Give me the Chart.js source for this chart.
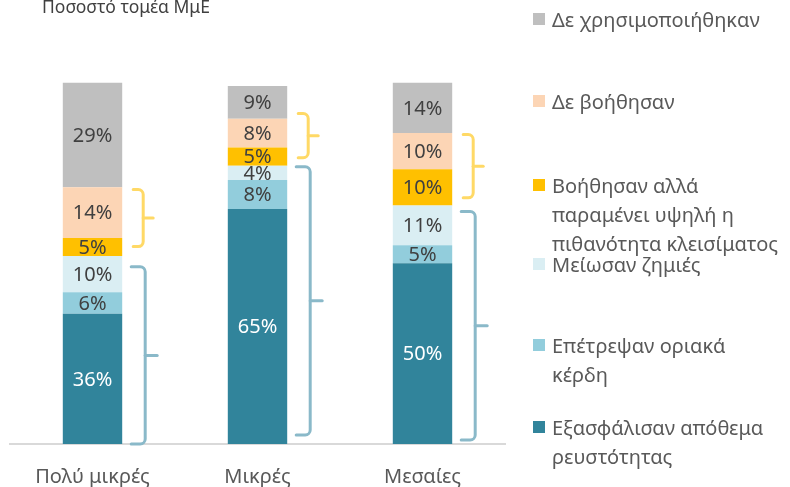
<!DOCTYPE html>
<html lang="el">
<head>
<meta charset="UTF-8">
<title>Ποσοστό τομέα ΜμΕ</title>
<script src="https://cdn.jsdelivr.net/npm/chart.js"></script>
<style>
  body, html { margin: 0; padding: 0; width: 100%; height: 100%; overflow: hidden; background: #fff; }
  #wrap { position: relative; width: 790px; height: 487px; }
  canvas { display: block; }
  .item { position: absolute; left: 533px; font-family: "Noto Sans"; font-size: 20px; color: #595959; line-height: 29px; white-space: pre-line; }
  .item .box { position: absolute; left: 0; top: 8.5px; width: 12px; height: 12px; }
  .item .txt { margin-left: 19px; }
</style>
</head>
<body>
<div id="wrap">
  <canvas id="smeChart" width="790" height="487"></canvas>
</div>
<script>
  const categories = ['Πολύ μικρές', 'Μικρές', 'Μεσαίες'];

  // bottom to top of each stack
  const liquidity = [36, 65, 50];
  const marginalProfit = [6, 8, 5];
  const reducedLosses = [10, 4, 11];
  const helpedButRisk = [5, 5, 10];
  const didNotHelp = [14, 8, 10];
  const notUsed = [29, 9, 14];

  const seriesNames = [
    'Εξασφάλισαν απόθεμα\nρευστότητας',
    'Επέτρεψαν οριακά\nκέρδη',
    'Μείωσαν ζημιές',
    'Βοήθησαν αλλά\nπαραμένει υψηλή η\nπιθανότητα κλεισίματος',
    'Δε βοήθησαν',
    'Δε χρησιμοποιήθηκαν'
  ];
  const seriesColors = ['#31849b', '#92cddc', '#daeef3', '#ffc000', '#fcd5b5', '#bfbfbf'];

  // bracket ranges [from, to] in % per category
  const riskBracket = [[54.6, 70.4], [79.2, 91.4], [68.1, 85.6]];
  const helpBracket = [[0, 49], [2.5, 76.7], [1.1, 64.3]];

  const seriesData = [liquidity, marginalProfit, reducedLosses, helpedButRisk, didNotHelp, notUsed];

  // legend, top item = top of stack
  const legendTops = [19, 101, 185, 264, 345, 427];
  const wrap = document.getElementById('wrap');
  for (let k = 0; k < seriesNames.length; k++) {
    const i = seriesNames.length - 1 - k;
    const div = document.createElement('div');
    div.className = 'item';
    div.style.top = (legendTops[k] - 14.5) + 'px';
    div.innerHTML = '<span class="box" style="background:' + seriesColors[i] + '"></span><div class="txt"></div>';
    div.querySelector('.txt').textContent = seriesNames[i];
    wrap.appendChild(div);
  }

  const overlay = {
    id: 'overlay',
    afterDatasetsDraw(chart) {
      const ctx = chart.ctx;
      const y = chart.scales.y;
      ctx.save();

      // segment labels
      ctx.font = '20px "Noto Sans"';
      ctx.textAlign = 'center';
      ctx.textBaseline = 'middle';
      chart.data.datasets.forEach((ds, i) => {
        chart.getDatasetMeta(i).data.forEach((bar, j) => {
          ctx.fillStyle = i === 0 ? '#ffffff' : '#404040';
          ctx.fillText(ds.data[j] + '%', bar.x, (bar.y + bar.base) / 2 + 1);
        });
      });

      // brackets
      function bracket(right, range, color, hook, vert, tick) {
        const top = y.getPixelForValue(range[1]);
        const bot = y.getPixelForValue(range[0]);
        const mid = (top + bot) / 2;
        ctx.strokeStyle = color;
        ctx.lineWidth = 3;
        ctx.lineCap = 'round';
        ctx.lineJoin = 'round';
        ctx.beginPath();
        ctx.moveTo(right + hook, top);
        ctx.arcTo(right + vert, top, right + vert, mid, 5);
        ctx.arcTo(right + vert, bot, right + hook, bot, 5);
        ctx.lineTo(right + hook, bot);
        ctx.stroke();
        ctx.beginPath();
        ctx.moveTo(right + vert, mid);
        ctx.lineTo(right + tick, mid);
        ctx.stroke();
      }
      chart.getDatasetMeta(0).data.forEach((bar, j) => {
        const right = bar.x + bar.width / 2;
        bracket(right, riskBracket[j], '#ffd966', 11, 21, 31);
        bracket(right, helpBracket[j], '#8ab9c9', 9, 23, 35);
      });

      // title
      ctx.font = '17.5px "Noto Sans"';
      ctx.textAlign = 'left';
      ctx.fillStyle = '#404040';
      ctx.fillText('Ποσοστό τομέα ΜμΕ', 42, 8);
      ctx.restore();
    }
  };

  new Chart(document.getElementById('smeChart').getContext('2d'), {
    type: 'bar',
    data: {
      labels: categories,
      datasets: seriesData.map((d, i) => ({
        label: seriesNames[i],
        data: d,
        backgroundColor: seriesColors[i],
        borderWidth: 0,
        categoryPercentage: 1,
        barPercentage: 0.36
      }))
    },
    options: {
      responsive: false,
      animation: false,
      layout: { padding: { left: 10, right: 285, top: 82.5, bottom: -15 } },
      scales: {
        x: {
          stacked: true,
          grid: { display: false },
          border: { color: '#d9d9d9', width: 2 },
          ticks: { color: '#595959', font: { family: 'Noto Sans', size: 20 }, padding: 13 }
        },
        y: {
          stacked: true,
          display: false,
          min: 0,
          max: 100
        }
      },
      plugins: {
        legend: { display: false },
        tooltip: { enabled: false }
      }
    },
    plugins: [overlay]
  });
</script>
</body>
</html>
